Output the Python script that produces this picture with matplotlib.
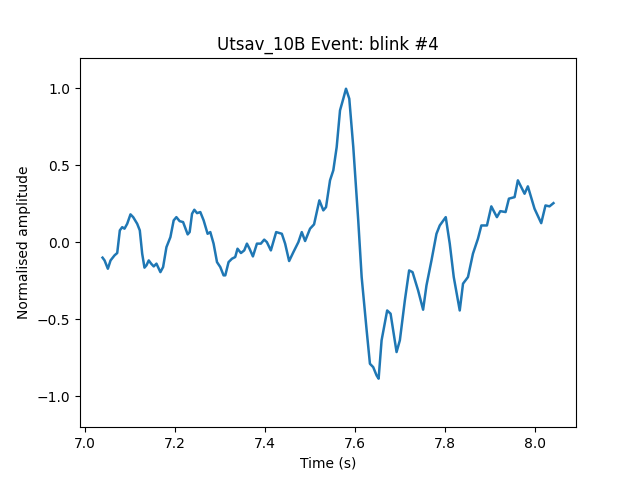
import matplotlib
matplotlib.use('Agg')
import matplotlib.pyplot as plt

# Blink event trace (time in s, normalised amplitude)
time_s = [
    7.0392, 7.0437, 7.0510, 7.0570, 7.0659, 7.0718, 7.0776, 7.0829, 7.0880, 7.0940,
    7.1013, 7.1073, 7.1162, 7.1220, 7.1273, 7.1324, 7.1368, 7.1419, 7.1472, 7.1530,
    7.1590, 7.1678, 7.1738, 7.1812, 7.1900, 7.1973, 7.2033, 7.2106, 7.2182, 7.2284,
    7.2328, 7.2381, 7.2432, 7.2492, 7.2565, 7.2639, 7.2727, 7.2787, 7.2860, 7.2936,
    7.3009, 7.3082, 7.3120, 7.3193, 7.3268, 7.3341, 7.3392, 7.3468, 7.3541, 7.3601,
    7.3659, 7.3734, 7.3823, 7.3911, 7.3985, 7.4044, 7.4133, 7.4251, 7.4377, 7.4450,
    7.4539, 7.4634, 7.4745, 7.4820, 7.4894, 7.5004, 7.5093, 7.5211, 7.5299, 7.5359,
    7.5448, 7.5521, 7.5596, 7.5670, 7.5743, 7.5803, 7.5876, 7.5965, 7.6075, 7.6151,
    7.6262, 7.6335, 7.6408, 7.6483, 7.6528, 7.6594, 7.6718, 7.6794, 7.6927, 7.7000,
    7.7111, 7.7206, 7.7282, 7.7406, 7.7517, 7.7592, 7.7703, 7.7814, 7.7887, 7.8020,
    7.8109, 7.8198, 7.8331, 7.8404, 7.8514, 7.8625, 7.8736, 7.8812, 7.8936, 7.9033,
    7.9157, 7.9233, 7.9350, 7.9424, 7.9550, 7.9623, 7.9772, 7.9845, 7.9993, 8.0142,
    8.0237, 8.0326, 8.0414,
]
amplitude = [
    -0.099, -0.117, -0.171, -0.117, -0.084, -0.069, 0.078, 0.099, 0.089, 0.121,
    0.182, 0.164, 0.121, 0.078, -0.073, -0.164, -0.149, -0.117, -0.138, -0.156,
    -0.138, -0.193, -0.160, -0.031, 0.034, 0.143, 0.164, 0.138, 0.132, 0.052,
    0.067, 0.186, 0.212, 0.190, 0.197, 0.143, 0.056, 0.067, -0.008, -0.128,
    -0.160, -0.214, -0.214, -0.128, -0.106, -0.095, -0.041, -0.069, -0.052, -0.008,
    -0.041, -0.091, -0.008, -0.008, 0.018, 0.002, -0.052, 0.067, 0.056, -0.008,
    -0.121, -0.063, 0.002, 0.067, 0.009, 0.089, 0.117, 0.273, 0.208, 0.229,
    0.403, 0.468, 0.619, 0.857, 0.933, 0.998, 0.933, 0.619, 0.143, -0.225,
    -0.571, -0.788, -0.810, -0.864, -0.885, -0.636, -0.442, -0.463, -0.712, -0.636,
    -0.377, -0.182, -0.193, -0.312, -0.437, -0.279, -0.117, 0.056, 0.110, 0.164,
    -0.008, -0.225, -0.442, -0.268, -0.225, -0.073, 0.024, 0.110, 0.110, 0.234,
    0.164, 0.203, 0.197, 0.284, 0.294, 0.403, 0.316, 0.364, 0.219, 0.125,
    0.240, 0.234, 0.255,
]

fig, ax = plt.subplots(figsize=(6.4, 4.8), dpi=100)
ax.plot(time_s, amplitude, color='#1f77b4', linewidth=1.8)
ax.set_ylim(-1.2, 1.2)
ax.set_title("Utsav_10B Event: blink #4")
ax.set_xlabel("Time (s)")
ax.set_ylabel("Normalised amplitude")

plt.savefig('out.png')
